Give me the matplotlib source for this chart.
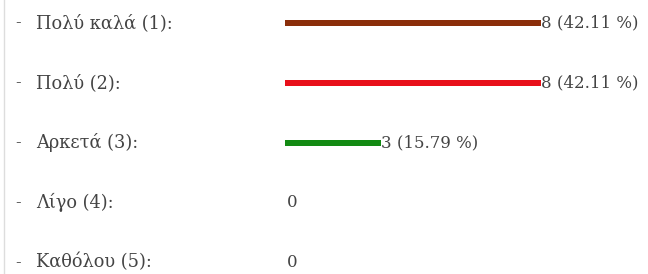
import matplotlib
matplotlib.use("Agg")
import matplotlib.pyplot as plt

labels = ["Πολύ καλά (1):", "Πολύ (2):", "Αρκετά (3):", "Λίγο (4):", "Καθόλου (5):"]
counts = [8, 8, 3, 0, 0]
percents = [42.11, 42.11, 15.79, 0, 0]
colors = ["#8B2E0A", "#E8101A", "#138A13", "#888888", "#888888"]

W, H = 648, 274
fig = plt.figure(figsize=(W / 100, H / 100), dpi=100)
ax = fig.add_axes([0, 0, 1, 1])
x0_px, px_per = 285, 32.0
ax.set_xlim(-x0_px / px_per, (W - x0_px) / px_per)
row0, step = 23.0, 59.8
ax.set_ylim((H - row0) / step, -row0 / step)
ax.axis("off")

font = dict(family=["DejaVu Serif"], size=12, color="#444444")
lab_font = dict(font, size=12.8)
dash_x = (15 - x0_px) / px_per
lab_x = (36 - x0_px) / px_per
for i, (lab, c, p, col) in enumerate(zip(labels, counts, percents, colors)):
    ax.text(dash_x, i, "-", ha="left", va="center", **font)
    ax.text(lab_x, i, lab, ha="left", va="center", **lab_font)
    if c > 0:
        ax.barh(i, c, left=0, height=6 / step, color=col, edgecolor="none")
        ax.text(c, i, f"{c} ({p:.2f} %)", ha="left", va="center", **font)
    else:
        ax.text(0.05, i, "0", ha="left", va="center", **font)

fig.add_artist(plt.Line2D([3.5 / W, 3.5 / W], [0, 1], color="#dddddd", lw=1))
fig.savefig("out.png", dpi=100)
